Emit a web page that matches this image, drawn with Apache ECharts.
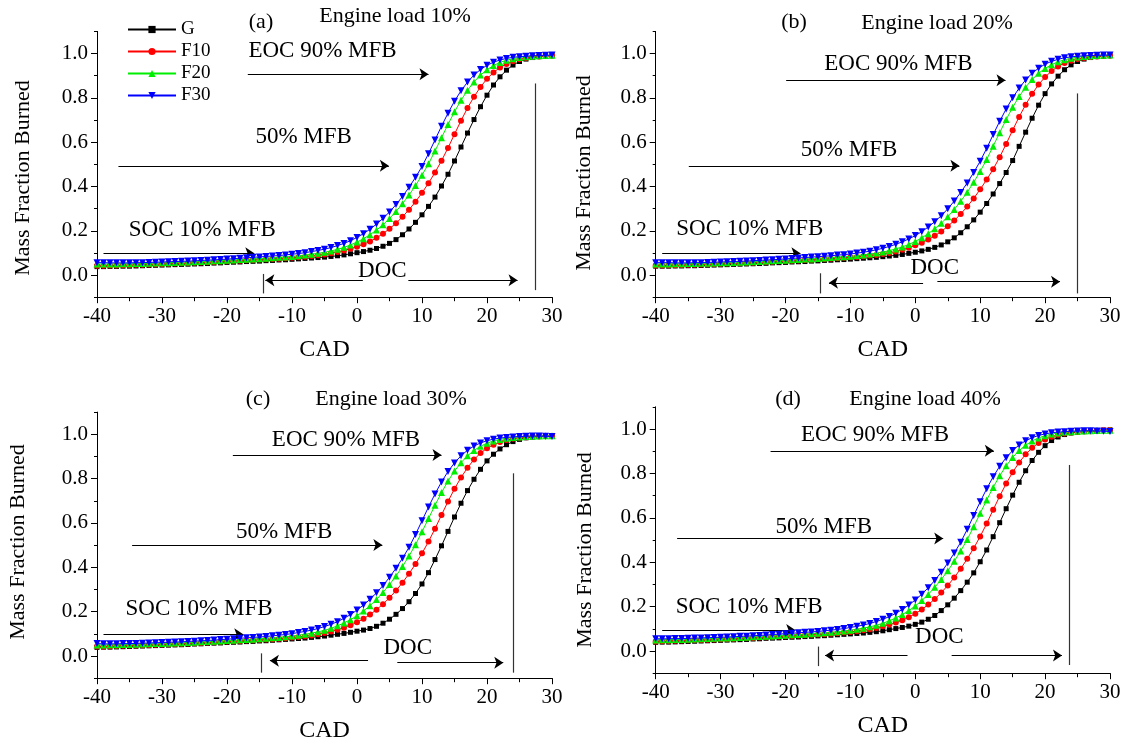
<!DOCTYPE html>
<html><head><meta charset="utf-8">
<script src="https://cdn.jsdelivr.net/npm/echarts@6/dist/echarts.min.js"></script>
<style>html,body{margin:0;padding:0;background:#fff}#c{width:1129px;height:744px}</style>
</head><body><div id="c"></div>
<script>
// ---------------- DATA ----------------
const CAD = [-40,-39,-38,-37,-36,-35,-34,-33,-32,-31,-30,-29,-28,-27,-26,-25,-24,-23,-22,-21,-20,-19,-18,-17,-16,-15,-14,-13,-12,-11,-10,-9,-8,-7,-6,-5,-4,-3,-2,-1,0,1,2,3,4,5,6,7,8,9,10,11,12,13,14,15,16,17,18,19,20,21,22,23,24,25,26,27,28,29,30];
const SERIES_NAMES = ['G','F10','F20','F30'];

// (a) Engine load 10%
const G_A   = [.038,.038,.039,.039,.040,.040,.041,.042,.043,.044, .045,.046,.047,.048,.049,.050,.051,.052,.054,.055, .057,.058,.059,.061,.062,.063,.065,.066,.068,.069, .071,.073,.075,.077,.079,.081,.084,.087,.091,.096, .101,.106,.112,.120,.130,.143,.160,.182,.208,.238, .272,.310,.352,.402,.455,.515,.578,.641,.702,.760, .812,.858,.895,.925,.948,.964,.975,.982,.986,.989, .991];
const F10_A = [.042,.042,.043,.043,.044,.045,.046,.047,.048,.049, .050,.051,.052,.053,.054,.055,.057,.058,.059,.061, .062,.064,.065,.067,.068,.070,.071,.073,.074,.076, .078,.080,.083,.086,.089,.093,.098,.104,.111,.119, .128,.139,.152,.168,.187,.209,.234,.263,.295,.331, .371,.415,.463,.516,.574,.636,.697,.754,.805,.849, .886,.915,.937,.953,.965,.974,.980,.984,.987,.989, .990];
const F20_A = [.050,.050,.050,.050,.051,.051,.052,.052,.053,.054, .055,.056,.057,.058,.059,.060,.061,.062,.064,.065, .067,.068,.070,.071,.073,.074,.076,.078,.080,.082, .084,.087,.090,.094,.098,.103,.109,.116,.125,.136, .149,.164,.182,.203,.227,.255,.287,.322,.361,.404, .451,.502,.560,.620,.680,.737,.789,.834,.872,.903, .927,.946,.960,.970,.977,.982,.986,.988,.990,.991, .992];
const F30_A = [.056,.056,.055,.055,.055,.055,.056,.056,.057,.058, .059,.060,.061,.062,.063,.064,.066,.067,.069,.070, .072,.074,.076,.078,.080,.082,.084,.086,.088,.091, .094,.097,.101,.106,.111,.117,.124,.133,.143,.155, .170,.187,.207,.230,.256,.285,.318,.355,.396,.441, .490,.548,.610,.672,.731,.785,.832,.871,.903,.928, .947,.961,.971,.978,.983,.986,.988,.990,.991,.992, .993];

// (b) Engine load 20%
const G_B   = [.040,.040,.040,.041,.041,.042,.042,.043,.044,.045, .046,.047,.048,.049,.050,.051,.052,.053,.055,.056, .057,.059,.060,.061,.063,.064,.066,.067,.069,.070, .072,.074,.076,.078,.080,.083,.086,.089,.093,.098, .103,.109,.116,.125,.136,.150,.168,.191,.218,.249, .284,.323,.366,.413,.463,.517,.581,.645,.708,.767, .819,.863,.898,.927,.949,.964,.975,.982,.986,.989, .991];
const F10_B = [.043,.043,.044,.044,.045,.046,.047,.048,.049,.050, .051,.052,.053,.054,.055,.056,.058,.059,.060,.062, .063,.065,.066,.068,.069,.071,.072,.074,.076,.078, .080,.082,.085,.088,.091,.095,.100,.106,.114,.123, .134,.146,.160,.177,.197,.220,.246,.276,.309,.346, .387,.431,.478,.532,.592,.654,.714,.769,.818,.860, .894,.921,.942,.957,.968,.975,.980,.984,.987,.989, .990];
const F20_B = [.050,.050,.050,.051,.051,.052,.052,.053,.053,.054, .055,.056,.057,.058,.059,.060,.061,.063,.064,.066, .067,.069,.070,.072,.073,.075,.077,.079,.081,.083, .085,.088,.091,.095,.099,.104,.110,.118,.127,.138, .152,.168,.187,.209,.234,.263,.296,.333,.374,.419, .468,.522,.582,.643,.702,.757,.806,.848,.883,.911, .933,.950,.963,.972,.979,.984,.987,.989,.991,.992, .993];
const F30_B = [.056,.056,.056,.055,.055,.055,.056,.056,.057,.058, .059,.060,.061,.062,.063,.065,.066,.068,.069,.071, .073,.075,.077,.079,.081,.083,.085,.087,.090,.092, .095,.099,.103,.108,.114,.121,.129,.139,.150,.163, .178,.196,.217,.241,.268,.299,.334,.373,.416,.463, .514,.572,.634,.694,.750,.800,.844,.881,.911,.934, .952,.965,.974,.981,.985,.988,.990,.991,.992,.993, .993];

// (c) Engine load 30%
const G_C   = [.039,.040,.040,.041,.042,.043,.044,.045,.046,.047, .048,.049,.050,.051,.052,.054,.055,.057,.058,.059, .061,.062,.063,.065,.066,.068,.069,.071,.073,.075, .077,.079,.081,.084,.087,.090,.094,.098,.102,.107, .112,.117,.124,.134,.148,.166,.188,.214,.245,.282, .325,.376,.435,.497,.562,.627,.689,.746,.797,.842, .880,.910,.934,.953,.967,.977,.984,.988,.991,.993, .994];
const F10_C = [.043,.043,.044,.045,.046,.047,.048,.049,.050,.051, .052,.053,.054,.055,.057,.058,.059,.061,.062,.064, .065,.067,.068,.070,.071,.073,.074,.076,.078,.080, .083,.086,.089,.093,.098,.104,.111,.119,.128,.139, .152,.168,.187,.209,.234,.263,.295,.331,.371,.415, .463,.516,.574,.636,.697,.754,.805,.849,.886,.915, .937,.953,.965,.974,.980,.984,.987,.989,.990,.991, .992];
const F20_C = [.050,.050,.051,.051,.052,.052,.053,.054,.055,.056, .057,.058,.059,.060,.061,.062,.064,.065,.067,.068, .070,.071,.073,.074,.076,.078,.080,.082,.084,.087, .090,.094,.098,.103,.109,.116,.125,.136,.149,.164, .182,.203,.227,.255,.287,.322,.361,.404,.451,.502, .560,.620,.680,.737,.789,.834,.872,.903,.927,.946, .960,.970,.977,.982,.986,.988,.990,.991,.992,.993, .993];
const F30_C = [.056,.055,.055,.055,.056,.056,.057,.058,.059,.060, .061,.062,.063,.064,.066,.067,.069,.070,.072,.074, .076,.078,.080,.082,.084,.086,.088,.091,.094,.097, .101,.106,.111,.117,.124,.133,.143,.155,.170,.187, .207,.230,.256,.285,.318,.355,.396,.441,.490,.548, .610,.672,.731,.785,.832,.871,.903,.928,.947,.961, .971,.978,.983,.986,.988,.990,.991,.992,.992,.991, .990];

// (d) Engine load 40%
const G_D   = [.039,.040,.040,.041,.042,.043,.044,.045,.046,.047, .048,.049,.050,.051,.052,.054,.055,.057,.058,.059, .061,.062,.063,.065,.066,.068,.069,.071,.073,.075, .077,.079,.081,.084,.087,.091,.096,.101,.106,.112, .120,.130,.143,.160,.182,.208,.238,.272,.310,.352, .402,.455,.515,.578,.641,.702,.760,.812,.858,.895, .925,.948,.964,.975,.982,.986,.989,.991,.993,.995, .996];
const F10_D = [.043,.044,.045,.046,.047,.048,.049,.050,.051,.052, .053,.054,.055,.057,.058,.059,.061,.062,.064,.065, .067,.068,.070,.071,.073,.074,.076,.078,.080,.083, .086,.089,.093,.098,.104,.111,.119,.128,.139,.152, .168,.187,.209,.234,.263,.295,.331,.371,.415,.463, .516,.574,.636,.697,.754,.805,.849,.886,.915,.937, .953,.965,.974,.980,.984,.987,.989,.990,.992,.994, .996];
const F20_D = [.050,.051,.051,.052,.052,.053,.054,.055,.056,.057, .058,.059,.060,.061,.062,.064,.065,.067,.068,.070, .071,.073,.074,.076,.078,.080,.082,.084,.087,.090, .094,.098,.103,.109,.116,.125,.136,.149,.164,.182, .203,.227,.255,.287,.322,.361,.404,.451,.502,.560, .620,.680,.737,.789,.834,.872,.903,.927,.946,.960, .970,.977,.982,.986,.988,.990,.991,.992,.993,.994, .994];
const F30_D = [.055,.055,.055,.056,.056,.057,.058,.059,.060,.061, .062,.063,.064,.066,.067,.069,.070,.072,.074,.076, .078,.080,.082,.084,.086,.088,.091,.094,.097,.101, .106,.111,.117,.124,.133,.143,.155,.170,.187,.207, .230,.256,.285,.318,.355,.396,.441,.490,.548,.610, .672,.731,.785,.832,.871,.903,.928,.947,.961,.971, .978,.983,.986,.988,.990,.991,.992,.992,.991,.990, .989];

const PANEL_LETTERS = ['(a)','(b)','(c)','(d)'];
const PANEL_LOADS = ['Engine load 10%','Engine load 20%','Engine load 30%','Engine load 40%'];
const X_NAME = 'CAD';
const Y_NAME = 'Mass Fraction Burned';
const Y_LABEL_VALUES = [0, 0.2, 0.4, 0.6, 0.8, 1.0];

// annotations: [text, CAD, value]
const TEXT_A = [['EOC 90% MFB',-5.3,1.012],['50% MFB',-8.2,0.624],['SOC 10% MFB',-23.8,0.203],['DOC',3.9,0.017]];
const TEXT_B = [['EOC 90% MFB',-2.6,0.955],['50% MFB',-10.2,0.564],['SOC 10% MFB',-25.5,0.206],['DOC',3.0,0.030]];
const TEXT_C = [['EOC 90% MFB',-1.7,0.974],['50% MFB',-11.2,0.561],['SOC 10% MFB',-24.3,0.211],['DOC',7.8,0.035]];
const TEXT_D = [['EOC 90% MFB',-6.2,0.973],['50% MFB',-14.1,0.560],['SOC 10% MFB',-25.6,0.200],['DOC',3.7,0.065]];
// arrows: [fromCAD, toCAD, value]
const ARROWS_A = [[-16.8,11.0,0.907],[-36.7,4.9,0.493],[-39,-15.8,0.098],[0.9,-14.1,-0.023],[7.9,24.7,-0.023]];
const ARROWS_B = [[-19.9,13.9,0.880],[-34.9,6.8,0.493],[-39,-17.7,0.098],[1.2,-13.3,-0.035],[3.4,22.3,-0.030]];
const ARROWS_C = [[-19.1,13.0,0.907],[-34.6,3.9,0.501],[-39,-17.5,0.098],[1.7,-13.4,-0.021],[6.2,22.5,-0.030]];
const ARROWS_D = [[-22.3,12.1,0.902],[-36.7,4.3,0.507],[-39,-18.5,0.095],[-1.2,-13.9,-0.020],[5.6,22.6,-0.020]];
// vertical lines: [CAD, fromValue, toValue]
const VLINES_A = [[-14.5,0.005,-0.083],[27.4,0.865,-0.068]];
const VLINES_B = [[-14.6,0.008,-0.083],[25.0,0.820,-0.083]];
const VLINES_C = [[-14.8,0.012,-0.075],[24.1,0.824,-0.075]];
const VLINES_D = [[-14.9,0.020,-0.068],[23.7,0.838,-0.063]];

// ---------------- LAYOUT / STYLE ----------------
const FONT = '"Liberation Serif", "Times New Roman", serif';
const PANELS = [
  {grid:{left:97, top:31.4, width:455, height:265.8}, series:[G_A,F10_A,F20_A,F30_A], texts:TEXT_A, arrows:ARROWS_A, vlines:VLINES_A,
   letterPos:[261,22], loadPos:[395,16], yNamePos:[23,178]},
  {grid:{left:655.7, top:31.4, width:454.3, height:265.8}, series:[G_B,F10_B,F20_B,F30_B], texts:TEXT_B, arrows:ARROWS_B, vlines:VLINES_B,
   letterPos:[794,22], loadPos:[937,23], yNamePos:[584,173]},
  {grid:{left:97, top:412.1, width:455, height:266.1}, series:[G_C,F10_C,F20_C,F30_C], texts:TEXT_C, arrows:ARROWS_C, vlines:VLINES_C,
   letterPos:[258,399], loadPos:[391,399], yNamePos:[18,542]},
  {grid:{left:655.7, top:406.8, width:454.3, height:266.4}, series:[G_D,F10_D,F20_D,F30_D], texts:TEXT_D, arrows:ARROWS_D, vlines:VLINES_D,
   letterPos:[788,399], loadPos:[925,399], yNamePos:[585,550]}
];
const STYLES = [
  {color:'#000000', symbol:'rect', size:5, rotate:0},
  {color:'#ff0000', symbol:'circle', size:6, rotate:0},
  {color:'#00ee00', symbol:'triangle', size:7, rotate:0},
  {color:'#0000ff', symbol:'triangle', size:7, rotate:180}
];

const grids = [], xAxes = [], yAxes = [], series = [], graphics = [];
PANELS.forEach((p, i) => {
  grids.push(Object.assign({containLabel:false, outerBoundsMode:'none'}, p.grid));
  xAxes.push({
    type:'value', gridIndex:i, min:-40, max:30, interval:10,
    axisLine:{show:true, onZero:false, lineStyle:{color:'#000', width:1}},
    axisTick:{show:true, length:6, lineStyle:{color:'#000', width:1}},
    minorTick:{show:true, splitNumber:2, length:4, lineStyle:{color:'#000', width:1}},
    axisLabel:{fontFamily:FONT, fontSize:21, color:'#000', margin:9},
    splitLine:{show:false}, minorSplitLine:{show:false},
    name:X_NAME, nameLocation:'middle', nameGap:41,
    nameTextStyle:{fontFamily:FONT, fontSize:24, color:'#000'}
  });
  yAxes.push({
    type:'value', gridIndex:i, min:-0.1, max:1.1, interval:0.1, position:'left',
    axisLine:{show:true, onZero:false, lineStyle:{color:'#000', width:1}},
    axisTick:{show:true, length:3, lineStyle:{color:'#000', width:1}},
    axisLabel:{show:true, customValues:Y_LABEL_VALUES, formatter:v => v.toFixed(1),
               fontFamily:FONT, fontSize:21, color:'#000', margin:9},
    splitLine:{show:false}
  });
  yAxes.push({
    type:'value', gridIndex:i, min:-0.1, max:1.1, position:'left', offset:0,
    axisLine:{show:false, onZero:false},
    axisTick:{show:true, length:6, customValues:Y_LABEL_VALUES, lineStyle:{color:'#000', width:1}},
    axisLabel:{show:false}, splitLine:{show:false}
  });
  p.series.forEach((arr, k) => {
    const s = STYLES[k];
    series.push({
      type:'line', name:SERIES_NAMES[k], xAxisIndex:i, yAxisIndex:2*i,
      data: CAD.map((x, j) => [x, arr[j]]),
      symbol:s.symbol, symbolSize:s.size, symbolRotate:s.rotate,
      showSymbol:true, showAllSymbol:true, clip:false,
      lineStyle:{color:s.color, width:1}, itemStyle:{color:s.color},
      animation:false, silent:true, z:2+k
    });
  });
  series.push({
    type:'scatter', name:'annot'+i, xAxisIndex:i, yAxisIndex:2*i,
    data: p.texts.map(t => ({value:[t[1], t[2]], name:t[0]})),
    symbolSize:1, itemStyle:{color:'rgba(0,0,0,0)'},
    label:{show:true, position:'inside', formatter:'{b}', fontFamily:FONT, fontSize:23, color:'#000',
           textBorderWidth:0, textShadowBlur:0, opacity:1},
    silent:true, animation:false, z:10,
    markLine:{
      silent:true, animation:false, symbol:['none', 'arrow'], symbolSize:9,
      lineStyle:{color:'#000', width:1, type:'solid', opacity:1}, label:{show:false},
      emphasis:{disabled:true},
      data: p.arrows.map(a => [{coord:[a[0], a[2]]}, {coord:[a[1], a[2]]}])
    }
  });
  series.push({
    type:'scatter', name:'vlines'+i, xAxisIndex:i, yAxisIndex:2*i, data:[],
    silent:true, animation:false,
    markLine:{
      silent:true, animation:false, symbol:['none','none'],
      lineStyle:{color:'#333', width:1.2, type:'solid', opacity:1}, label:{show:false},
      emphasis:{disabled:true},
      data: p.vlines.map(v => [{coord:[v[0], v[1]]}, {coord:[v[0], v[2]]}])
    }
  });
  graphics.push({type:'text', x:p.letterPos[0], y:p.letterPos[1], silent:true,
    style:{text:PANEL_LETTERS[i], font:'22px ' + FONT, fill:'#000', align:'center', verticalAlign:'middle'}});
  graphics.push({type:'text', x:p.loadPos[0], y:p.loadPos[1], silent:true,
    style:{text:PANEL_LOADS[i], font:'22px ' + FONT, fill:'#000', align:'center', verticalAlign:'middle'}});
  graphics.push({type:'text', x:p.yNamePos[0], y:p.yNamePos[1], rotation:Math.PI/2, silent:true,
    style:{text:Y_NAME, font:'22px ' + FONT, fill:'#000', align:'center', verticalAlign:'middle'}});
});

const option = {
  animation:false,
  backgroundColor:'#ffffff',
  grid:grids, xAxis:xAxes, yAxis:yAxes, series:series, graphic:graphics,
  legend:{
    data:SERIES_NAMES, orient:'vertical', left:122, top:15, itemWidth:48, itemHeight:9, itemGap:3,
    textStyle:{fontFamily:FONT, fontSize:19, color:'#000', lineHeight:18},
    selectedMode:false, inactiveColor:'#000'
  }
};
const chart = echarts.init(document.getElementById('c'), null, {renderer:'canvas'});
chart.setOption(option);
</script>
</body></html>
